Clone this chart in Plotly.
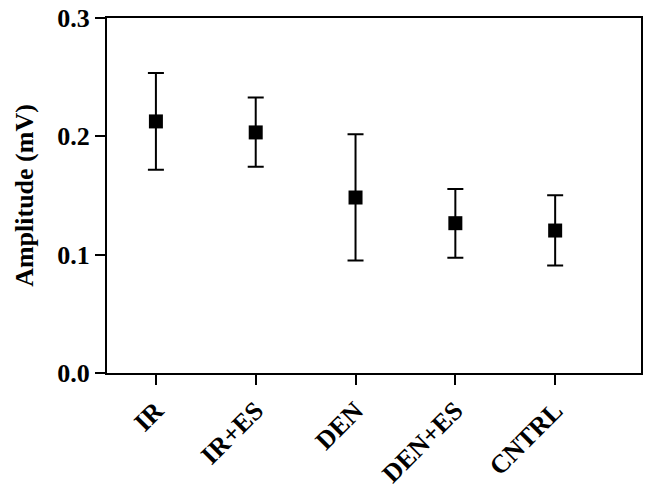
import plotly.graph_objects as go

groups = ['IR', 'IR+ES', 'DEN', 'DEN+ES', 'CNTRL']
amplitude = [0.2126, 0.2033, 0.1483, 0.1266, 0.1204]
err_plus = [0.0409, 0.0296, 0.0534, 0.0288, 0.0299]
err_minus = [0.0409, 0.0290, 0.0533, 0.0291, 0.0296]

font = 'Liberation Serif'

fig = go.Figure()
fig.add_trace(go.Scatter(
    x=groups, y=amplitude, mode='markers',
    marker=dict(symbol='square', size=14, color='black'),
    error_y=dict(type='data', array=err_plus, arrayminus=err_minus,
                 color='black', thickness=2, width=8),
    showlegend=False))

fig.update_layout(
    width=651, height=491,
    margin=dict(l=107, r=10, t=18, b=118),
    plot_bgcolor='white', paper_bgcolor='white',
    font=dict(family=font, color='black'))

fig.update_xaxes(range=[-0.49, 4.86], showline=True, linecolor='black', linewidth=2,
                 mirror=True, ticks='outside', ticklen=10, tickwidth=2, tickcolor='black',
                 tickangle=-45, showgrid=False, zeroline=False, automargin=False,
                 tickfont=dict(family=font, size=26, color='black', weight='bold'))
fig.update_yaxes(range=[0, 0.3], tickvals=[0, 0.1, 0.2, 0.3], tickformat='.1f',
                 showline=True, linecolor='black', linewidth=2, mirror=True,
                 ticks='outside', ticklen=10, tickwidth=2, tickcolor='black',
                 showgrid=False, zeroline=False, automargin=False,
                 ticklabeloverflow='allow',
                 tickfont=dict(family=font, size=26, color='black', weight='bold'),
                 title=dict(text='Amplitude (mV)', standoff=16,
                            font=dict(family=font, size=26, color='black', weight='bold')))

# drop the default body margin so the figure fills the window
fig.write_html("out.html", config={'displayModeBar': False},
               post_script="document.body.style.margin='0';")
